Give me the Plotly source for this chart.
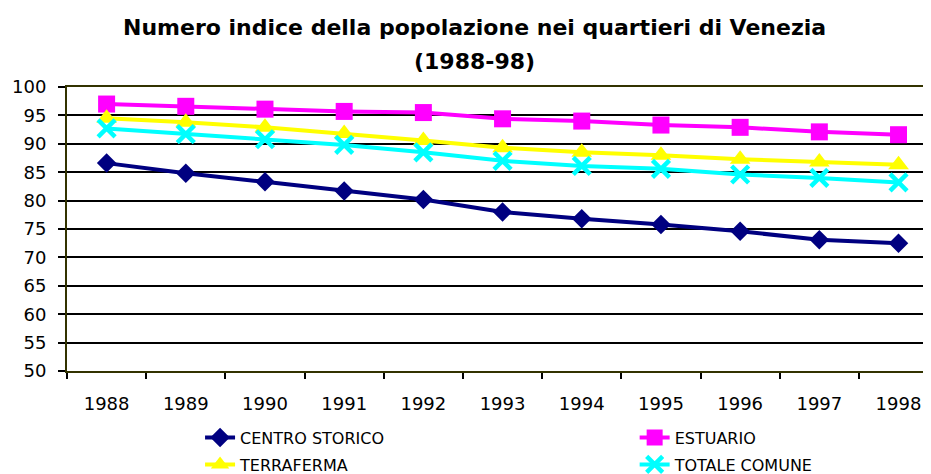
import plotly.graph_objects as go

years = ["1988", "1989", "1990", "1991", "1992", "1993", "1994", "1995", "1996", "1997", "1998"]
centro_storico = [86.6, 84.8, 83.3, 81.7, 80.2, 78.0, 76.8, 75.8, 74.6, 73.1, 72.5]
estuario = [97.0, 96.6, 96.1, 95.7, 95.5, 94.4, 94.0, 93.3, 92.9, 92.1, 91.6]
terraferma = [94.5, 93.8, 92.9, 91.8, 90.6, 89.3, 88.5, 88.0, 87.3, 86.8, 86.3]
totale_comune = [92.7, 91.7, 90.8, 89.8, 88.5, 87.0, 86.1, 85.6, 84.6, 84.0, 83.2]
y_ticks = [50, 55, 60, 65, 70, 75, 80, 85, 90, 95, 100]

FONT = "Liberation Sans, Arial, sans-serif"
WIDE = "DejaVu Sans, Verdana, sans-serif"

fig = go.Figure()
fig.add_trace(go.Scatter(x=years, y=centro_storico, name="CENTRO STORICO", mode="lines+markers",
                         line=dict(color="#000080", width=4),
                         marker=dict(symbol="diamond", size=15, color="#000080"),
                         legend="legend", legendgroup="a"))
fig.add_trace(go.Scatter(x=years, y=estuario, name="ESTUARIO", mode="lines+markers",
                         line=dict(color="#FF00FF", width=4),
                         marker=dict(symbol="square", size=17, color="#FF00FF"),
                         legend="legend2", legendgroup="b"))
fig.add_trace(go.Scatter(x=years, y=terraferma, name="TERRAFERMA", mode="lines+markers",
                         line=dict(color="#FFFF00", width=4),
                         marker=dict(symbol="triangle-up", size=18, color="#FFFF00"),
                         legend="legend", legendgroup="c"))
fig.add_trace(go.Scatter(x=years, y=totale_comune, name="TOTALE COMUNE", mode="lines+markers",
                         line=dict(color="#00FFFF", width=4),
                         marker=dict(symbol="x-thin", size=17, color="#00FFFF",
                                     line=dict(color="#00FFFF", width=4.5)),
                         legend="legend2", legendgroup="d"))

# page body has an 8px default margin, so the figure is 8px smaller than the window
fig.update_layout(
    width=923, height=466,
    margin=dict(l=59, r=0, t=79, b=103, autoexpand=False),
    paper_bgcolor="white", plot_bgcolor="white",
    font=dict(family=FONT, color="#000000"),
    showlegend=True,
    legend=dict(x=0.154, y=-0.175, xanchor="left", yanchor="top", orientation="v",
                font=dict(size=16, family=WIDE), tracegroupgap=3, bgcolor="rgba(0,0,0,0)"),
    legend2=dict(x=0.657, y=-0.175, xanchor="left", yanchor="top", orientation="v",
                 font=dict(size=16, family=WIDE), tracegroupgap=3, bgcolor="rgba(0,0,0,0)"),
    xaxis=dict(type="category", range=[-0.5, 10.41], tickson="boundaries", automargin=False,
               ticks="outside", ticklen=6, tickwidth=1.5, tickcolor="#000000",
               showline=True, linecolor="#333300", linewidth=2, mirror=True,
               showgrid=False, tickfont=dict(size=18, family=WIDE), ticklabelstandoff=15),
    yaxis=dict(range=[50, 100], tickvals=y_ticks, ticks="outside", ticklen=7, tickwidth=1.5,
               automargin=False,
               tickcolor="#000000", showline=True, linecolor="#333300", linewidth=2,
               showgrid=True, gridcolor="#000000", gridwidth=1.5, zeroline=False,
               tickfont=dict(size=18, family=WIDE), ticklabelstandoff=8),
    annotations=[
        dict(text="<b>Numero indice della popolazione nei quartieri di Venezia</b>", xref="paper", yref="paper",
             x=0.472, y=1.21, xanchor="center", yanchor="middle", showarrow=False,
             font=dict(size=22, family=WIDE)),
        dict(text="<b>(1988-98)</b>", xref="paper", yref="paper",
             x=0.472, y=1.09, xanchor="center", yanchor="middle", showarrow=False,
             font=dict(size=22, family=WIDE)),
    ],
)

fig.write_html("out.html")
